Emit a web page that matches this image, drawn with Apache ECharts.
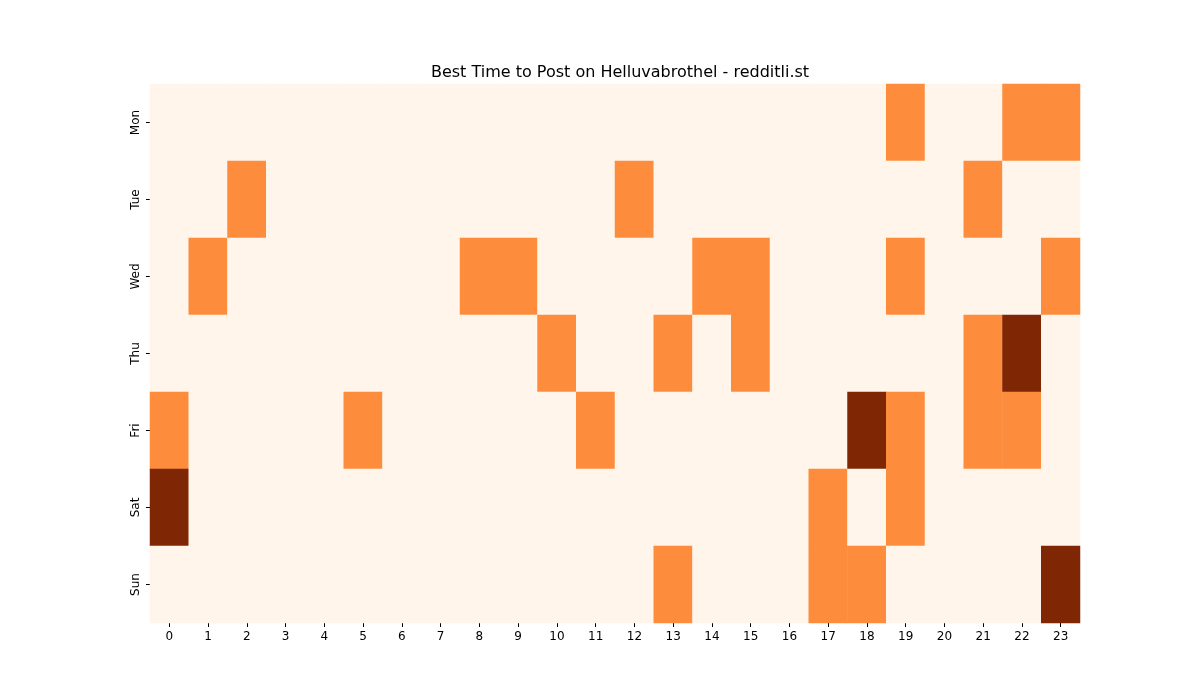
<!DOCTYPE html>
<html>
<head>
<meta charset="utf-8">
<script src="https://cdn.jsdelivr.net/npm/echarts@6/dist/echarts.min.js"></script>
<style>html,body{margin:0;padding:0;background:#fff}#main{width:1200px;height:700px}</style>
</head>
<body>
<div id="main"></div>
<script>
var hours = ['0','1','2','3','4','5','6','7','8','9','10','11','12','13','14','15','16','17','18','19','20','21','22','23'];
var days = ['Mon', 'Tue', 'Wed', 'Thu', 'Fri', 'Sat', 'Sun'];

// hour indexes per day at level 1 (orange) and level 2 (dark)
var mid = {
    Mon: [19, 22, 23],
    Tue: [2, 12, 21],
    Wed: [1, 8, 9, 14, 15, 19, 23],
    Thu: [10, 13, 15, 21],
    Fri: [0, 5, 11, 19, 21, 22],
    Sat: [17, 19],
    Sun: [13, 17, 18]
};
var high = {
    Mon: [], Tue: [], Wed: [],
    Thu: [22],
    Fri: [18],
    Sat: [0],
    Sun: [23]
};

var data = [];
days.forEach(function (d, di) {
    hours.forEach(function (h, hi) {
        var v = 0;
        if (mid[d].indexOf(hi) >= 0) v = 1;
        if (high[d].indexOf(hi) >= 0) v = 2;
        data.push([hi, di, v]);
    });
});

var font = 'DejaVu Sans';
var option = {
    backgroundColor: '#fff',
    title: {
        text: 'Best Time to Post on Helluvabrothel - redditli.st',
        left: 615, top: 60, textAlign: 'center',
        textStyle: {fontFamily: font, fontSize: 16, fontWeight: 'normal', color: '#000'}
    },
    grid: {left: 150, right: 120, top: 84, bottom: 77},
    xAxis: {
        type: 'category', data: hours,
        axisLine: {show: false},
        axisTick: {show: true, alignWithLabel: true, length: 4, lineStyle: {color: '#000'}},
        axisLabel: {fontFamily: font, fontSize: 12, color: '#000', margin: 8},
        splitLine: {show: false}
    },
    yAxis: {
        type: 'category', data: days, inverse: true,
        axisLine: {show: false},
        axisTick: {show: true, alignWithLabel: true, length: 4, lineStyle: {color: '#000'}},
        axisLabel: {fontFamily: font, fontSize: 12, color: '#000', rotate: 90, margin: 8},
        splitLine: {show: false}
    },
    visualMap: {
        show: false, type: 'piecewise', dimension: 2,
        pieces: [
            {value: 0, color: '#fff5eb'},
            {value: 1, color: '#fd8d3c'},
            {value: 2, color: '#7f2704'}
        ]
    },
    graphic: [{
        type: 'text', left: 550, top: 337,
        style: {text: 'redditli.st', fontFamily: font, fontSize: 26, fill: 'rgba(128,128,128,0.45)'}
    }],
    series: [{
        type: 'heatmap', data: data,
        itemStyle: {borderWidth: 0},
        emphasis: {disabled: true}
    }]
};

var myChart = echarts.init(document.getElementById('main'));
myChart.setOption(option);
</script>
</body>
</html>
